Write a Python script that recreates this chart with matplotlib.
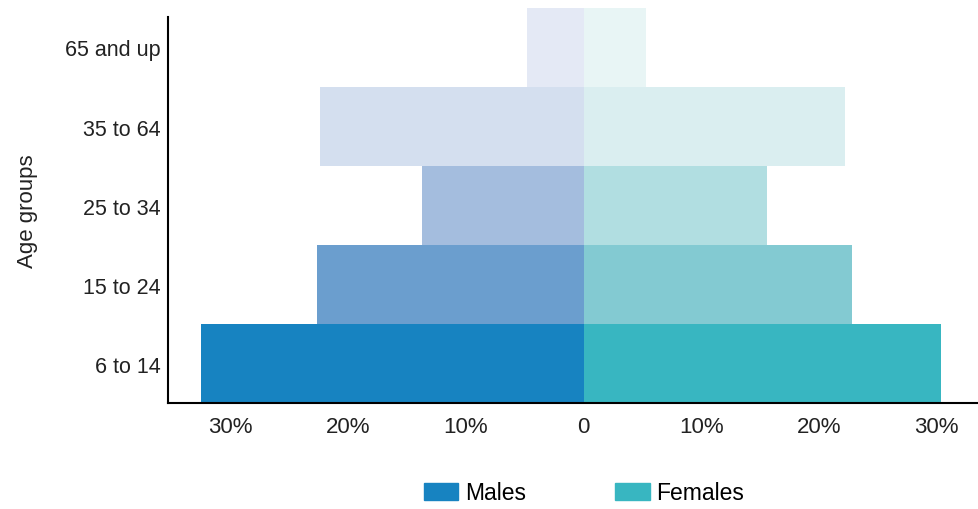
import matplotlib
matplotlib.use("Agg")
import matplotlib.pyplot as plt
from matplotlib.patches import Patch

plt.rcParams['font.family'] = ['Liberation Sans', 'DejaVu Sans']

ages = ['6 to 14', '15 to 24', '25 to 34', '35 to 64', '65 and up']
males = [32.5, 22.6, 13.7, 22.4, 4.8]
females = [30.4, 22.8, 15.6, 22.2, 5.3]
male_colors = ['#1783c1', '#6b9ece', '#a4bdde', '#d4dfef', '#e4e9f5']
female_colors = ['#38b6c1', '#83cad2', '#b1dee1', '#daeef0', '#e8f5f5']
xticks = [-30, -20, -10, 0, 10, 20, 30]
xlabels = ['30%', '20%', '10%', '0', '10%', '20%', '30%']

fig = plt.figure(figsize=(9.79, 5.10), dpi=100)
ax = fig.add_axes([0.1716, 0.2078, 0.8284, 0.7569])

y = list(range(len(ages)))
ax.barh(y, [-m for m in males], height=1.0, color=male_colors, clip_on=False)
ax.barh(y, females, height=1.0, color=female_colors, clip_on=False)

ax.set_xlim(-35.3, 33.6)
ax.set_ylim(-0.5, 4.386)
ax.set_yticks(y)
ax.set_yticklabels(ages, fontsize=15.5, color='#222222')
ax.set_xticks(xticks)
ax.set_xticklabels(xlabels, fontsize=16, color='#222222')
ax.tick_params(length=0)
ax.tick_params(axis='y', pad=5)
ax.tick_params(axis='x', pad=9)
ax.set_ylabel('Age groups', fontsize=16, color='#222222', labelpad=20)

for s in ['top', 'right']:
    ax.spines[s].set_visible(False)
for s in ['left', 'bottom']:
    ax.spines[s].set_linewidth(1.5)
    ax.spines[s].set_color('black')

handles = [Patch(color=male_colors[0]), Patch(color=female_colors[0])]
fig.legend(handles, ['Males', 'Females'], loc='center', bbox_to_anchor=(584 / 979, 1 - 494 / 510),
           ncol=2, frameon=False, fontsize=16.5, handlelength=1.5, handleheight=0.75,
           handletextpad=0.3, columnspacing=3.9)

fig.savefig('out.png', dpi=100)
